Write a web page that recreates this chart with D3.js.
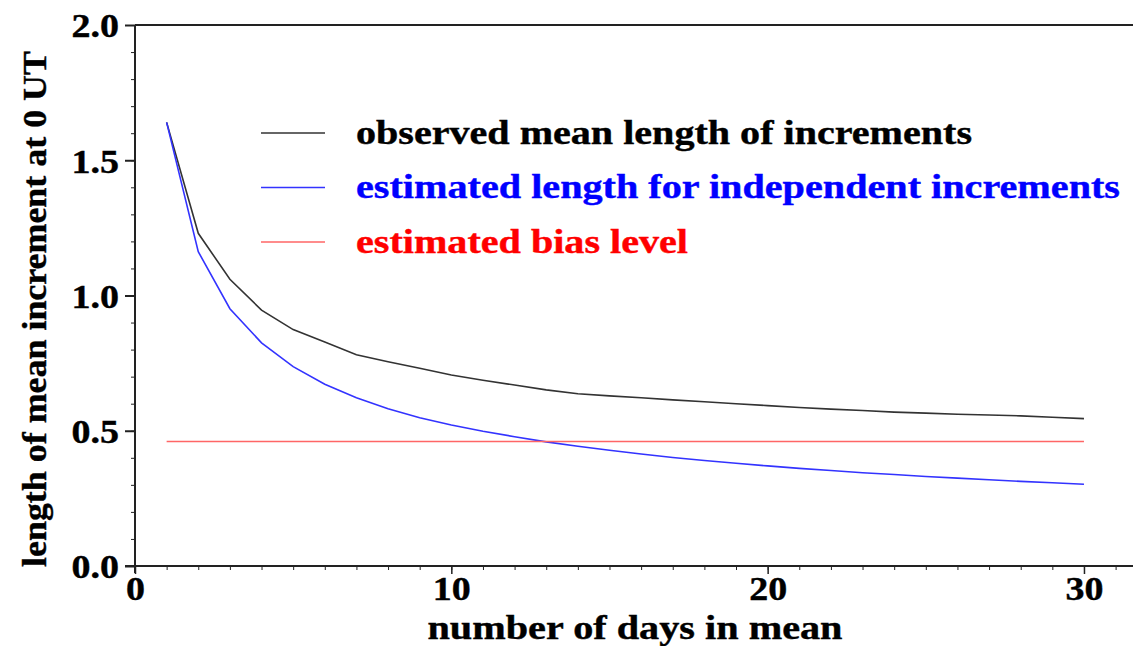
<!DOCTYPE html>
<html>
<head>
<meta charset="utf-8">
<script src="https://cdn.jsdelivr.net/npm/d3@7"></script>
<style>
  body { margin: 0; background: #fff; }
  text { font-family: "Liberation Serif", "Times New Roman", serif; font-weight: bold; }
  .axis path, .axis line { stroke: #222; }
</style>
</head>
<body>
<div id="vis"></div>
<script>
// days in mean
var days = d3.range(1, 31);

// observed mean length of increments
var observed = [1.64, 1.23, 1.06, 0.946, 0.874, 0.828, 0.781, 0.755, 0.731, 0.706,
  0.687, 0.669, 0.651, 0.637, 0.629, 0.622, 0.614, 0.607, 0.600, 0.593,
  0.586, 0.580, 0.575, 0.569, 0.565, 0.561, 0.558, 0.555, 0.550, 0.545];

// estimated length for independent increments
var independent = [1.64, 1.162, 0.951, 0.825, 0.737, 0.672, 0.622, 0.581, 0.548, 0.521,
  0.498, 0.478, 0.459, 0.443, 0.428, 0.414, 0.401, 0.390, 0.380, 0.370,
  0.361, 0.353, 0.345, 0.338, 0.331, 0.325, 0.319, 0.313, 0.308, 0.302];

// estimated bias level
var biasLevel = 0.46;

var xTicks = [0, 10, 20, 30];
var yTicks = [0.0, 0.5, 1.0, 1.5, 2.0];

var seriesNames = ["observed mean length of increments",
  "estimated length for independent increments",
  "estimated bias level"];
var seriesColors = ["#333", "#3333ff", "#ff6666"];
var textColors = ["#000", "#0000ff", "#ff0000"];
var legendWidths = [616, 764, 332];

var width = 1133, height = 646;

var svg = d3.select("#vis").append("svg")
  .attr("width", width)
  .attr("height", height);

var x = d3.scaleLinear().domain([0, 31.55]).range([135, 1133]);
var y = d3.scaleLinear().domain([0, 2]).range([566, 25]);

// stretch text wider, the original font is broad
function widen(sel, k) {
  sel.each(function(){
    var w = this.getComputedTextLength();
    d3.select(this).attr("textLength", w * k).attr("lengthAdjust", "spacingAndGlyphs");
  });
}

// minor ticks
svg.append("g")
  .attr("class", "axis")
  .attr("transform", "translate(135,0)")
  .call(d3.axisLeft(y).tickValues(d3.range(0, 20).map(function(i){ return i / 10; })).tickSize(4).tickFormat(""))
  .select(".domain").remove();

svg.append("g")
  .attr("class", "axis")
  .attr("transform", "translate(0,566)")
  .call(d3.axisBottom(x).tickValues(d3.range(0, 32)).tickSize(4).tickFormat(""))
  .select(".domain").remove();

// major y axis
var yAxis = svg.append("g")
  .attr("class", "axis")
  .attr("transform", "translate(135,0)")
  .call(d3.axisLeft(y).tickValues(yTicks).tickSize(10).tickSizeOuter(0).tickPadding(6).tickFormat(d3.format(".1f")));
yAxis.select(".domain").attr("d", "M0,25V573").attr("stroke-width", 2);
yAxis.selectAll("line").attr("stroke-width", 2);
yAxis.selectAll("text")
  .attr("font-size", 33).attr("fill", "#000").attr("dy", "0.36em")
  .attr("stroke", "#000").attr("stroke-width", 0.4)
  .call(widen, 1.15);

// major x axis
var xAxis = svg.append("g")
  .attr("class", "axis")
  .attr("transform", "translate(0,566)")
  .call(d3.axisBottom(x).tickValues(xTicks).tickSize(8).tickSizeOuter(0).tickPadding(3));
xAxis.select(".domain").attr("d", "M125,0H1133").attr("stroke-width", 2);
xAxis.selectAll("line").attr("stroke-width", 1.5);
xAxis.selectAll("text")
  .attr("font-size", 33).attr("fill", "#000")
  .attr("stroke", "#000").attr("stroke-width", 0.4)
  .call(widen, 1.15);

// top frame
svg.append("line")
  .attr("x1", 135).attr("x2", width)
  .attr("y1", y(2)).attr("y2", y(2))
  .attr("stroke", "#222").attr("stroke-width", 2);

// axis titles
svg.append("text")
  .attr("x", 635).attr("y", 639)
  .attr("text-anchor", "middle")
  .attr("font-size", 33)
  .attr("stroke", "#000").attr("stroke-width", 0.4)
  .attr("textLength", 415).attr("lengthAdjust", "spacingAndGlyphs")
  .text("number of days in mean");

svg.append("text")
  .attr("transform", "translate(46,309) rotate(-90)")
  .attr("text-anchor", "middle")
  .attr("font-size", 33)
  .attr("stroke", "#000").attr("stroke-width", 0.4)
  .attr("textLength", 516).attr("lengthAdjust", "spacingAndGlyphs")
  .text("length of mean increment at 0 UT");

var line = d3.line()
  .x(function(d){ return x(d[0]); })
  .y(function(d){ return y(d[1]); });

svg.append("path")
  .datum(days.map(function(d, i){ return [d, observed[i]]; }))
  .attr("d", line)
  .attr("fill", "none")
  .attr("stroke", seriesColors[0])
  .attr("stroke-width", 1.6);

svg.append("path")
  .datum(days.map(function(d, i){ return [d, independent[i]]; }))
  .attr("d", line)
  .attr("fill", "none")
  .attr("stroke", seriesColors[1])
  .attr("stroke-width", 1.6);

svg.append("path")
  .datum([[days[0], biasLevel], [days[days.length - 1], biasLevel]])
  .attr("d", line)
  .attr("fill", "none")
  .attr("stroke", seriesColors[2])
  .attr("stroke-width", 1.6);

// legend
var legend = svg.append("g");
seriesNames.forEach(function(name, i){
  var ly = 133 + i * 54.5;
  legend.append("line")
    .attr("x1", 261).attr("x2", 325)
    .attr("y1", ly).attr("y2", ly)
    .attr("stroke", seriesColors[i]).attr("stroke-width", 1.6);
  legend.append("text")
    .attr("x", 356).attr("y", ly)
    .attr("dy", "0.32em")
    .attr("font-size", 33)
    .attr("fill", textColors[i])
    .attr("stroke", textColors[i]).attr("stroke-width", 0.4)
    .attr("textLength", legendWidths[i]).attr("lengthAdjust", "spacingAndGlyphs")
    .text(name);
});
</script>
</body>
</html>
